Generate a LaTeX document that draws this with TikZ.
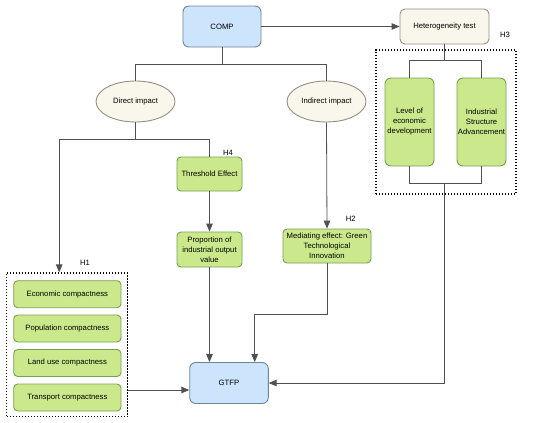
\documentclass[tikz,border=0pt]{standalone}
\usepackage{fontspec}
\setmainfont{Liberation Sans}
\usepackage{tikz}
\usepackage{color}
\usetikzlibrary{shapes.geometric, arrows}
\definecolor{boxgreen}{RGB}{203,233,140}
\definecolor{greenline}{RGB}{118,160,82}
\definecolor{boxblue}{RGB}{204,229,252}
\definecolor{blueline}{RGB}{112,132,152}
\definecolor{boxbeige}{RGB}{249,246,236}
\definecolor{beigeline}{RGB}{150,142,132}
\definecolor{linegray}{RGB}{80,80,80}
\tikzstyle{greenbox} = [rectangle, rounded corners=4pt, draw=greenline, fill=boxgreen, line width=0.9pt, inner sep=0pt, align=center]
\tikzstyle{bluebox} = [rectangle, rounded corners=6pt, draw=blueline, fill=boxblue, line width=0.9pt, minimum width=78pt, minimum height=41pt]
\tikzstyle{beigebox} = [rectangle, rounded corners=5pt, draw=beigeline, fill=boxbeige, line width=0.9pt, minimum width=89pt, minimum height=35pt]
\tikzstyle{impact} = [ellipse, draw=beigeline, fill=boxbeige, line width=0.9pt, minimum width=79pt, minimum height=41pt, inner sep=0pt]
\tikzstyle{group} = [draw=black, line width=1.2pt, dash pattern=on 1.2pt off 1.8pt, inner sep=0pt]
\tikzstyle{line} = [draw=linegray, line width=0.8pt]
\tikzstyle{arrow} = [line, -triangle 45]

\begin{document}
\begin{tikzpicture}[x=1pt, y=-1pt, font=\fontsize{7.7}{10}\selectfont, text=black]
			\useasboundingbox (0,0) rectangle (550,423);

			%--Top row--%
			\node(comp)[bluebox] at (222,26.5) {COMP};
			\node(het)[beigebox] at (444.5,26.5) {Heterogeneity test};

			%--Impacts--%
			\node(direct)[impact] at (135.5,101.5) {Direct impact};
			\node(indirect)[impact] at (326.5,101.5) {Indirect impact};

			%--Heterogeneity group--%
			\node(h3box)[group, minimum width=140pt, minimum height=144pt] at (446,122) {};
			\node(level)[greenbox, rounded corners=6pt, minimum width=49pt, minimum height=88pt] at (409.5,122) {Level of\\economic\\development};
			\node(industrial)[greenbox, rounded corners=6pt, minimum width=49pt, minimum height=88pt] at (481.5,122) {Industrial\\Structure\\Advancement};
			\node(h3)[anchor=center] at (505,35) {H3};

			%--Threshold path--%
			\node(threshold)[greenbox, minimum width=65pt, minimum height=34pt] at (209.5,174) {Threshold Effect};
			\node(h4) at (228,153) {H4};
			\node(proportion)[greenbox, minimum width=65pt, minimum height=35pt] at (209.5,249.5) {Proportion of\\industrial output\\value};

			%--Mediating path--%
			\node(mediating)[greenbox, minimum width=88pt, minimum height=34pt] at (327,246) {Mediating effect: Green\\Technological\\Innovation};
			\node(h2) at (350.7,218.7) {H2};

			%--Compactness group--%
			\node(h1box)[group, minimum width=121pt, minimum height=143.7pt] at (67.2,344.8) {};
			\node(h1) at (85,263.3) {H1};
			\node(economic)[greenbox, minimum width=107.3pt, minimum height=27pt] at (67.35,294.2) {Economic compactness};
			\node(population)[greenbox, minimum width=107.3pt, minimum height=27pt] at (67.35,328.5) {Population compactness};
			\node(landuse)[greenbox, minimum width=107.3pt, minimum height=27pt] at (67.35,363) {Land use compactness};
			\node(transport)[greenbox, minimum width=107.3pt, minimum height=27pt] at (67.35,397.5) {Transport compactness};

			%--Output--%
			\node(gtfp)[bluebox, minimum width=78.6pt] at (229,383) {GTFP};

			%--Connectors--%
			\draw[arrow] (comp) -- (het);
			\draw[line] (comp.south) -- ++(0,17) coordinate (split1);
			\draw[line] (direct.north) |- (split1) -| (indirect.north);

			\draw[line] (direct.south) -- ++(0,17) coordinate (split2);
			\coordinate (h1in) at ([xshift=-8pt]h1box.north);
			\draw[arrow] (split2) -| (h1in);
			\draw[line] (split2) -| (threshold.north);
			\draw[arrow] (threshold) -- (proportion);
			\draw[arrow] (proportion.south) -- (proportion.south |- gtfp.north);

			\draw[arrow] (indirect.south) -- (mediating.north);
			\coordinate (medin) at ([xshift=25.7pt]gtfp.north);
			\draw[arrow] (mediating.south) -- ++(0,51) -| (medin);

			\draw[line] (het.south) -- ++(0,16) coordinate (split3);
			\draw[line] (level.north) |- (split3) -| (industrial.north);
			\draw[line] (level.south) -- ++(0,17) coordinate (join3) -| (industrial.south);
			\draw[arrow] (het.south |- join3) |- (gtfp.east);

			\coordinate (groupin) at ([yshift=-7pt]gtfp.west);
			\draw[arrow] (h1box.east |- groupin) -- (groupin);
		\end{tikzpicture}
\end{document}
